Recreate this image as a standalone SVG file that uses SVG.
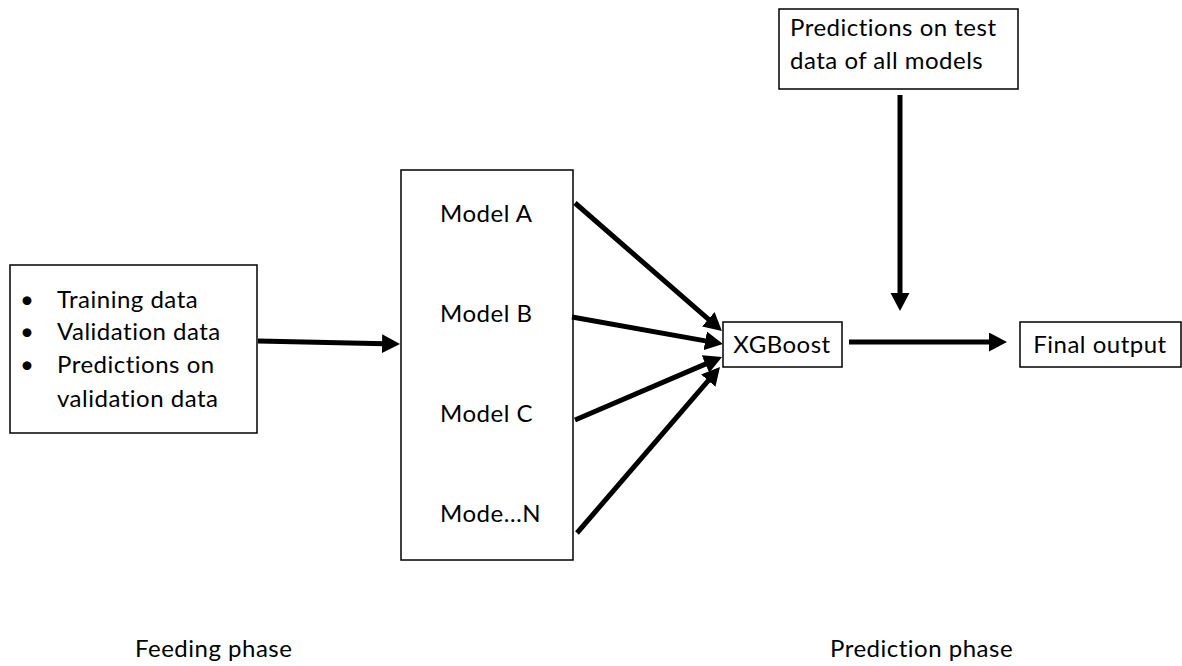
<svg xmlns="http://www.w3.org/2000/svg" width="1182" height="666" viewBox="0 0 1182 666">
<style>
.box{fill:#fff;stroke:#000;stroke-width:1.5}
.t{font-family:Lato,"Open Sans","Liberation Sans",sans-serif;font-size:24px;letter-spacing:0.5px;fill:#000}
.c{stroke:#000;stroke-width:5;fill:none}
</style>
<defs>
<marker id="ah" markerUnits="userSpaceOnUse" markerWidth="20" markerHeight="20" refX="3" refY="9.5" orient="auto" viewBox="0 0 20 20">
<path d="M0,0 L18,9.5 L0,19 z" fill="#000"/>
</marker>
</defs>
<rect width="1182" height="666" fill="#fff"/>
<g id="inputs">
<rect class="box" x="10" y="265" width="247" height="168"/>
<text class="t" x="20" y="308">•</text><text class="t" x="57" y="308">Training data</text>
<text class="t" x="20" y="340">•</text><text class="t" x="57" y="340">Validation data</text>
<text class="t" x="20" y="373">•</text><text class="t" x="57" y="373">Predictions on</text>
<text class="t" x="57" y="407">validation data</text>
</g>
<g id="models">
<rect class="box" x="401" y="170" width="172" height="390"/>
<text class="t" x="440" y="222">Model A</text>
<text class="t" x="440" y="322">Model B</text>
<text class="t" x="440" y="422">Model C</text>
<text class="t" x="440" y="522">Mode…N</text>
</g>
<g id="xgboost">
<rect class="box" x="723" y="322" width="119" height="45"/>
<text class="t" x="782" y="353" text-anchor="middle">XGBoost</text>
</g>
<g id="testpred">
<rect class="box" x="779" y="9" width="239" height="80"/>
<text class="t" x="790" y="36">Predictions on test</text>
<text class="t" x="790" y="69">data of all models</text>
</g>
<g id="final">
<rect class="box" x="1020" y="322" width="161" height="45"/>
<text class="t" x="1100" y="353" text-anchor="middle">Final output</text>
</g>
<g id="labels">
<text class="t" x="135" y="657">Feeding phase</text>
<text class="t" x="830" y="657">Prediction phase</text>
</g>
<g id="connectors">
<line class="c" x1="258" y1="341" x2="385" y2="343.7" marker-end="url(#ah)"/>
<line class="c" x1="575" y1="203" x2="710.6" y2="321.2" marker-end="url(#ah)"/>
<line class="c" x1="572" y1="317" x2="708.2" y2="341.4" marker-end="url(#ah)"/>
<line class="c" x1="575" y1="420" x2="708.2" y2="362.9" marker-end="url(#ah)"/>
<line class="c" x1="577" y1="533" x2="710.2" y2="378.4" marker-end="url(#ah)"/>
<line class="c" x1="900" y1="95" x2="900" y2="296" marker-end="url(#ah)"/>
<line class="c" x1="849" y1="342" x2="992" y2="342" marker-end="url(#ah)"/>
</g>
</svg>
